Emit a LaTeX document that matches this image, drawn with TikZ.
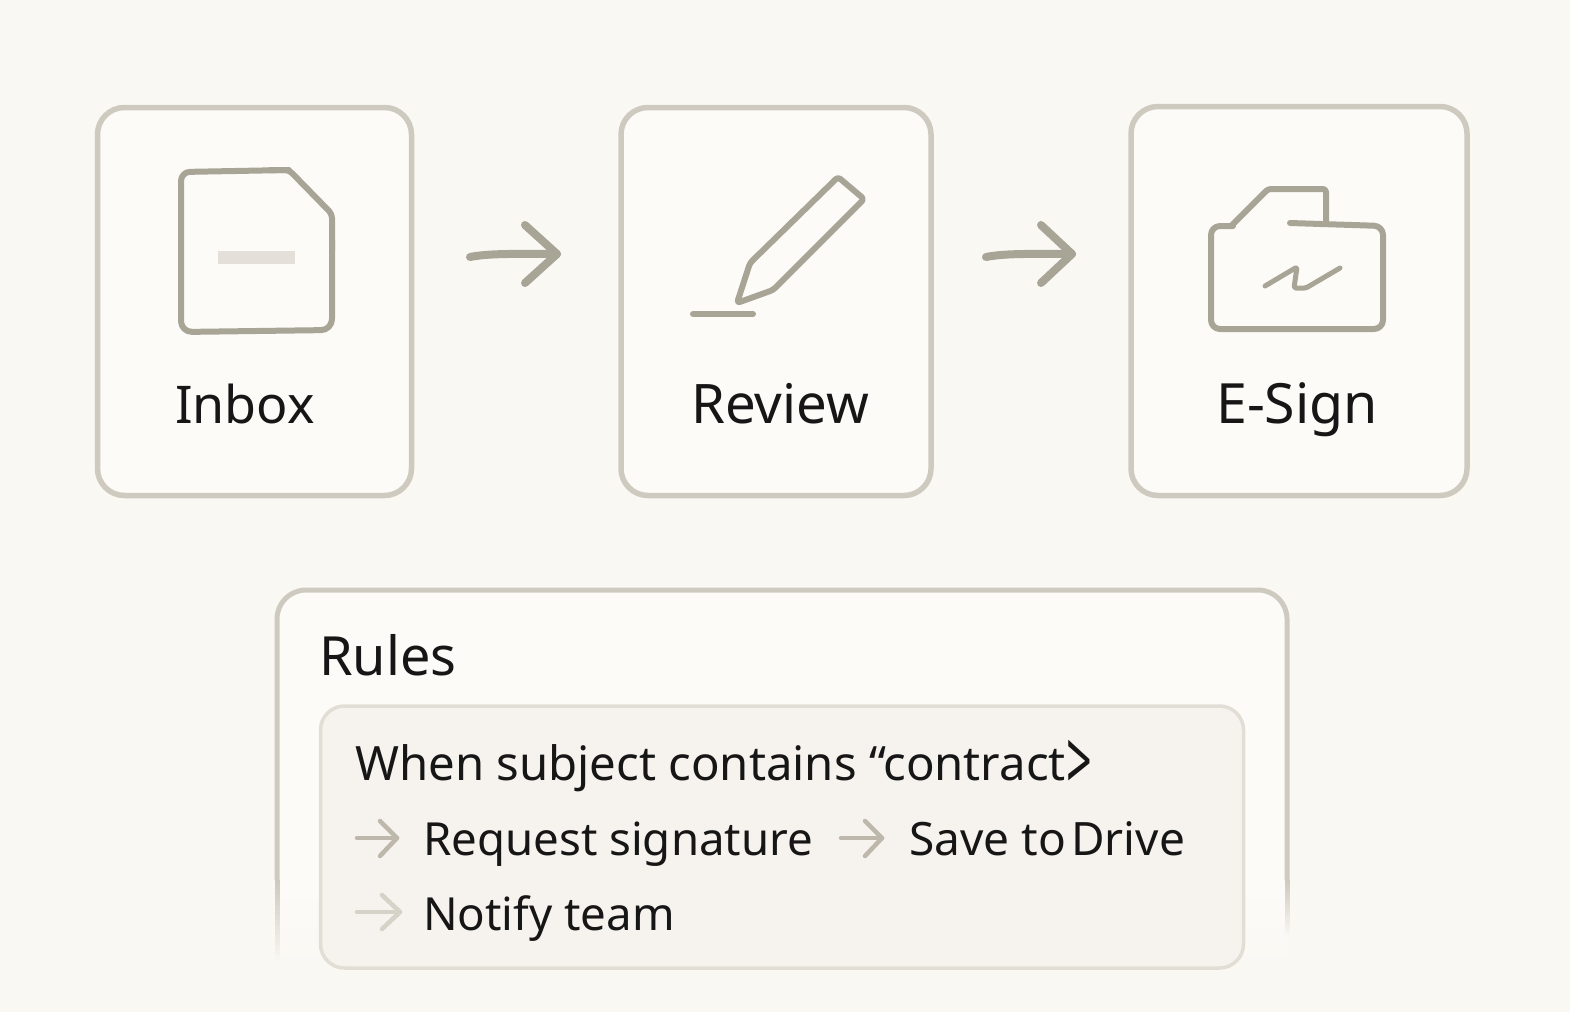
\documentclass[tikz,border=0pt]{standalone}
\usepackage{graphicx}
\usepackage{fontspec}
\setmainfont{Noto Sans}
\definecolor{bgc}{HTML}{FAF8F3}
\definecolor{cardc}{HTML}{FDFBF8}
\definecolor{innerc}{HTML}{F6F3EE}
\definecolor{edgec}{HTML}{CFCAC0}
\definecolor{inneredge}{HTML}{E2DED5}
\definecolor{iconc}{HTML}{A8A597}
\definecolor{dashc}{HTML}{E4DFD8}
\definecolor{inkc}{HTML}{161616}
\definecolor{arrowa}{HTML}{BDB8AB}
\definecolor{arrowb}{HTML}{D6D2C8}
\tikzset{
  x=1pt,y=-1pt,
  cardbox/.style={draw=edgec,fill=cardc,line width=5.5pt,rounded corners=27pt,inner sep=0pt},
  iconline/.style={draw=iconc,line width=6pt,line cap=round,line join=round},
  bigarrow/.style={draw=iconc,line width=8pt,line cap=round,line join=round},
  smallarrow/.style={line width=4.5pt,line cap=round,line join=round},
  biglabel/.style={anchor=base west,inner sep=0pt,text=inkc,font=\fontsize{52}{60}\selectfont},
  rowlabel/.style={anchor=base west,inner sep=0pt,text=inkc,font=\fontsize{45.6}{54}\selectfont},
}
\begin{document}
\begin{tikzpicture}
\useasboundingbox[fill=bgc] (0,0) rectangle (1570,1012);
% cards
\node[cardbox,minimum width=314pt,minimum height=388pt] (inbox) at (254.5,301.5) {};
\node[cardbox,minimum width=310pt,minimum height=388pt] (review) at (776,301.5) {};
\node[cardbox,minimum width=336pt,minimum height=389pt] (esign) at (1299,301) {};
\node[biglabel] (inboxl) at (175,423) {Inbox};
\node[biglabel,font=\fontsize{54.5}{60}\selectfont] (reviewl) at (691,423) {Review};
\node[biglabel,font=\fontsize{55.5}{60}\selectfont] (esignl) at (1216,423) {E-Sign};
% inbox icon
\draw[iconline,rounded corners=9pt] (181,240) -- (181,172) -- (289,170);
\draw[iconline,rounded corners=4pt] (270,170) -- (289,170) -- (332,214) -- (332,250);
\draw[iconline,rounded corners=11pt] (181,240) -- (181,332) -- (332,330) -- (332,240);
\fill[dashc] (218,251) rectangle (295,264);
% review icon
\draw[iconline,rounded corners=3pt] (838,177) -- (864,199) -- (773,290) -- (737,303) -- (750,263) -- cycle;
\draw[iconline] (693,314) -- (753,314);
% e-sign icon
\draw[iconline,rounded corners=9pt] (1290,223) -- (1383,226) -- (1383,329) -- (1211,329) -- (1211,226) -- (1233,226);
\draw[iconline,rounded corners=3pt] (1231,226) -- (1268,189) -- (1326,189) -- (1326,224);
\draw[iconline,rounded corners=1.5pt,line width=5pt] (1265,286) -- (1297,267) -- (1294,288) -- (1306,288) -- (1340,268);
% arrows between cards
\coordinate (a1s) at (470,257);
\coordinate (a1e) at (557,254);
\coordinate (a1t) at (525,225);
\coordinate (a1b) at (525,283);
\draw[bigarrow] (a1s) .. controls (490,253) and (520,254) .. (a1e);
\draw[bigarrow] (a1t) -- (a1e) -- (a1b);
\coordinate (a2s) at (986,257);
\coordinate (a2e) at (1072,254);
\coordinate (a2t) at (1041,225);
\coordinate (a2b) at (1041,283);
\draw[bigarrow] (a2s) .. controls (1006,253) and (1036,254) .. (a2e);
\draw[bigarrow] (a2t) -- (a2e) -- (a2b);
% rules panel
\fill[cardc,rounded corners=29pt] (277,900) -- (277,590) -- (1287,590) -- (1287,900) -- cycle;
\fill[cardc] (277,860) rectangle (1287,886);
\shade[top color=cardc,bottom color=bgc] (277,885) rectangle (1287,968);
\draw[edgec,line width=5pt,rounded corners=29pt] (277,880) -- (277,590) -- (1287,590) -- (1287,880);
\foreach \i in {0,...,15}{
  \pgfmathsetmacro{\p}{100-\i*6.25}
  \pgfmathsetmacro{\ya}{880+\i*5}
  \pgfmathsetmacro{\yb}{885+\i*5}
  \pgfmathsetmacro{\yc}{880+\i*3.4}
  \pgfmathsetmacro{\yd}{883.4+\i*3.4}
  \fill[edgec!\p!bgc] (274.5,\ya) rectangle (279.5,\yb);
  \fill[edgec!\p!bgc] (1284.5,\yc) rectangle (1289.5,\yd);
}
\node[biglabel,font=\fontsize{54}{60}\selectfont] (rules) at (319,675) {Rules};
\node[draw=inneredge,fill=innerc,line width=3.5pt,rounded corners=24pt,minimum width=923pt,minimum height=262pt,inner sep=0pt] (inner) at (782,837) {};
\node[rowlabel,font=\fontsize{47.3}{54}\selectfont] (when) at (355,780) {When subject contains “contract\kern1pt\raisebox{-10pt}{\scalebox{0.95}[1.75]{>}}};
\node[rowlabel] (request) at (423,855) {Request signature};
\node[rowlabel,font=\fontsize{46}{54}\selectfont] (save) at (909,855) {Save to};
\node[rowlabel,font=\fontsize{46}{54}\selectfont] (drive) at (1071,855) {Drive};
\node[rowlabel] (notify) at (423,930) {Notify team};
% small arrows
\coordinate (r1s) at (357,838);
\coordinate (r1e) at (397,838);
\draw[smallarrow,arrowa] (r1s) -- (r1e);
\draw[smallarrow,arrowa] (380,821) -- (r1e) -- (380,856);
\coordinate (r2s) at (841,838);
\coordinate (r2e) at (882,838);
\draw[smallarrow,arrowa] (r2s) -- (r2e);
\draw[smallarrow,arrowa] (865,821) -- (r2e) -- (865,856);
\coordinate (r3s) at (357,912);
\coordinate (r3e) at (400,912);
\draw[smallarrow,arrowb] (r3s) -- (r3e);
\draw[smallarrow,arrowb] (382,895) -- (r3e) -- (382,929);
\end{tikzpicture}
\end{document}
